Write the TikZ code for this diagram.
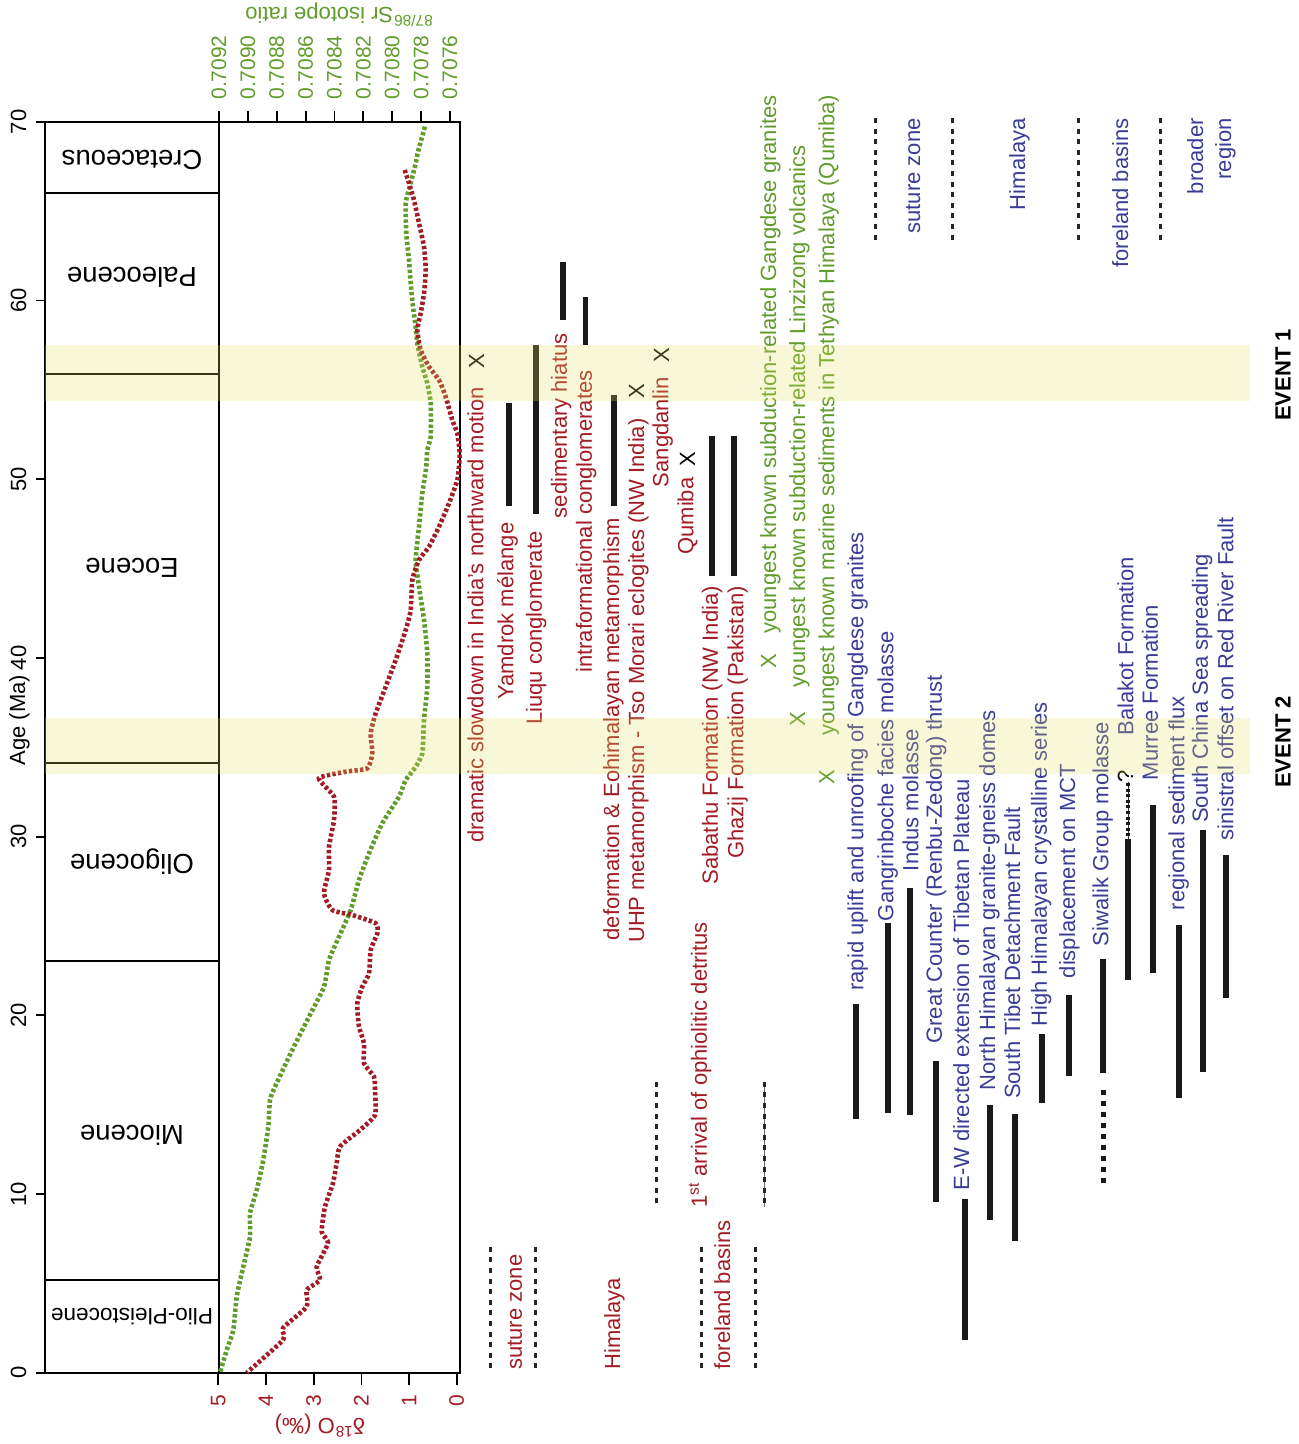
\documentclass[tikz,border=0pt]{standalone}
\usepackage{fontspec}
\setmainfont{Liberation Sans}
\definecolor{cred}{RGB}{163,27,36}
\definecolor{cgreen}{RGB}{96,156,42}
\definecolor{cblue}{RGB}{58,60,150}
\definecolor{cband}{RGB}{227,223,99}
\begin{document}
\begin{tikzpicture}[x=0.5pt,y=-0.5pt,
  lab/.style={font=\fontsize{11}{13}\selectfont, inner sep=0pt, rotate=90, text height=0.72em, text depth=0.21em},
  rl/.style={lab,text=cred},
  gl/.style={lab,text=cgreen},
  bl/.style={lab,text=cblue},
  xm/.style={lab,text=black},
  xg/.style={lab,text=cgreen},
  tbar/.style={line width=2.9pt,color=black!90},
  dbar/.style={line width=2.5pt,color=black!90,dash pattern=on 2.5pt off 3pt},
  sepline/.style={line width=1.5pt,color=black!85,dash pattern=on 2.5pt off 2.8pt},
  curve/.style={line width=2.3pt,dash pattern=on 1.65pt off 1.15pt},
  tickline/.style={line width=0.9pt},
  ticklab/.style={font=\fontsize{10.5}{12}\selectfont, inner sep=0pt, rotate=90, text height=0.716em, text depth=0pt},
  epoch/.style={font=\fontsize{13.75}{16}\selectfont, inner sep=0pt, rotate=180, text height=0.716em, text depth=0pt},
  band/.style={fill=cband, fill opacity=0.25, draw=none},
  ttl/.style={font=\fontsize{11}{13}\selectfont, inner sep=0pt, rotate=180},
  evt/.style={font=\fontsize{11}{13}\selectfont\bfseries, inner sep=0pt, rotate=90},
]
\useasboundingbox (0,0) rectangle (1298,1444);

% ---------- frame ----------
\draw[line width=1.1pt] (45,122) rectangle (460,1372.7);
\draw[line width=1.1pt] (219,122) -- (219,1372.7);
\foreach \yy in {193,374,763,961,1280}
  \draw[line width=1.1pt] (45,\yy) -- (219,\yy);

% epochs
\node[epoch] (ep1) at (132,158) {Cretaceous};
\node[epoch] (ep2) at (132,275) {Paleocene};
\node[epoch] (ep3) at (132,566) {Eocene};
\node[epoch] (ep4) at (132,862) {Oligocene};
\node[epoch] (ep5) at (132,1133) {Miocene};
\node[epoch,font=\fontsize{11.3}{13}\selectfont] (ep6) at (132,1316) {Plio-Pleistocene};

% age axis
\foreach \a in {0,10,...,70}{
  \draw[tickline] (36,{1372.7-17.87*\a}) -- (45,{1372.7-17.87*\a});
  \node[ticklab,font=\fontsize{11}{13}\selectfont] (age\a) at (19,{1372.7-17.87*\a}) {\a};
}
\node[lab,text=black] (agelab) at (20,720) {Age (Ma)};

% Sr axis
\foreach \i/\v in {0/0.7092,1/0.7090,2/0.7088,3/0.7086,4/0.7084,5/0.7082,6/0.7080,7/0.7078,8/0.7076}{
  \draw[tickline] ({219+28.87*\i},111.5) -- ({219+28.87*\i},122);
  \node[ticklab,text=cgreen,anchor=west] (sr\i) at ({219+28.87*\i},100) {\v};
}
\node[ttl,text=cgreen] (srt) at (339,15) {\textsuperscript{87/86}Sr isotope ratio};

% d18O axis
\foreach \d in {0,...,5}{
  \draw[tickline] ({218.3+(5-\d)*47.7},1372.7) -- ({218.3+(5-\d)*47.7},1385);
  \node[ticklab,text=cred] (do\d) at ({218.3+(5-\d)*47.7},1401) {\d};
}
\node[ttl,text=cred] (dot) at (320,1426) {δ\textsuperscript{18}O (‰)};

% ---------- curves ----------
\draw[curve,cgreen] plot[smooth,tension=0.35] coordinates {
(425,126.7) (418,151.7) (415.7,163.3) (412.3,176.7) (409.7,186.7) (405.7,203.3) (406.3,233.3) (409,260) (410.7,283.3) (413,306.7) (415.7,326.7) (417.3,343.3) (422.3,366.7) (427.3,383.3) (430.7,403.3) (430.7,436.7) (427.3,450) (426.3,466.7) (422.3,493.3) (419,526.7) (415.7,560) (419,586.7) (424,620) (427.3,653.3) (427.3,686.7) (424,720) (422.3,753.3) (415.7,766.7) (405.7,780) (399,796.7) (382.3,823.3) (369,853.3) (359,880) (350.7,910) (339,936.7) (329,960) (324,986.7) (309,1016.7) (292.3,1050) (275,1086.7) (270,1100) (268.3,1126.7) (263.3,1160) (256.7,1190) (250,1213.3) (250,1236.7) (243.3,1266.7) (236.7,1296.7) (233.3,1330) (226.7,1350) (220,1372.7)};
\draw[curve,cred] plot[smooth,tension=0.35] coordinates {
(404.7,170) (409,183.3) (414,200) (419,223.3) (424,246.7) (425.7,270) (424,293.3) (420.7,313.3) (417.3,330) (420.7,350) (429,366.7) (439,380) (445.7,396.7) (452.3,420) (457.3,433.3) (459.5,450) (459.5,460) (457.3,480) (449,503.3) (439,526.7) (429,546.7) (419,560) (412.3,580) (410.7,610) (405.7,630) (395.7,660) (385.7,686.7) (375.7,713.3) (370.7,733.3) (372.3,753.3) (367.3,768.3) (345.7,771.7) (319,778.3) (334,796.7) (334,820) (329,846.7) (329,870) (324,893.3) (332.3,910) (352.3,915) (375.7,923.3) (377.3,933.3) (370.7,950) (369,973.3) (362.3,986.7) (357.3,1003.3) (359,1026.7) (364,1043.3) (364,1063.3) (374,1076.7) (375,1090) (375,1115) (360,1130) (340,1146.7) (336.7,1163) (333,1183) (325,1206.7) (321.7,1231.7) (328,1243) (316.7,1266.7) (320,1280) (306.7,1290) (306.7,1306.7) (283,1328) (283,1340) (246.7,1372.7)};

% ---------- red (suture zone etc.) ----------
\node[rl,anchor=west] (t1) at (478.3,843) {dramatic slowdown in India’s northward motion};
\node[xm] (x1) at (479,360.7) {X};
\draw[tbar] (509,403) -- (509,506.4);
\node[rl,anchor=west] (t2) at (508.3,700) {Yamdrok mélange};
\draw[tbar] (536,344.6) -- (536,513.6);
\node[rl,anchor=west] (t3) at (536.7,725) {Liuqu conglomerate};
\draw[tbar] (562.7,262) -- (562.7,319.6);
\node[rl,anchor=west] (t4) at (561.7,518.6) {sedimentary hiatus};
\draw[tbar] (585.5,297) -- (585.5,344.6);
\node[rl,anchor=west] (t5) at (586.7,673) {intraformational conglomerates};
\draw[tbar] (614.3,394.6) -- (614.3,506.4);
\node[rl,anchor=east] (t6) at (614,518) {deformation \& Eohimalayan metamorphism};
\node[rl,anchor=east] (t7) at (639,418) {UHP metamorphism - Tso Morari eclogites (NW India)};
\node[xm] (x7) at (639,391) {X};
\node[rl,anchor=west] (t8) at (663.3,487.5) {Sangdanlin};
\node[xm] (x8) at (664,355.4) {X};
\node[rl,anchor=west] (t9) at (688.3,555) {Qumiba};
\node[xm] (x9) at (690,459) {X};
\draw[tbar] (711.7,435.7) -- (711.7,575.7);
\node[rl,anchor=east] (t10) at (712.7,585.7) {Sabathu Formation (NW India)};
\draw[tbar] (734,435.7) -- (734,575.7);
\node[rl,anchor=east] (t11) at (738.3,585.7) {Ghazij Formation (Pakistan)};
\node[rl,anchor=west] (t12) at (701.7,1208) {1\textsuperscript{st} arrival of ophiolitic detritus};

% ---------- green ----------
\node[xg] (gx1) at (771,660.7) {X};
\node[gl,anchor=west] (g1) at (771,634) {youngest known subduction-related Gangdese granites};
\node[xg] (gx2) at (800,719.6) {X};
\node[gl,anchor=west] (g2) at (800,687.5) {youngest known subduction-related Linzizong volcanics};
\node[xg] (gx3) at (829.3,776.8) {X};
\node[gl,anchor=west] (g3) at (829.3,735.7) {youngest known marine sediments in Tethyan Himalaya (Qumiba)};

% ---------- blue ----------
\draw[tbar] (856,1003.6) -- (856,1119);
\node[bl,anchor=west] (b1) at (858.3,991) {rapid uplift and unroofing of Gangdese granites};
\draw[tbar] (887.7,923.2) -- (887.7,1112.7);
\node[bl,anchor=west] (b2) at (888.3,921.4) {Gangrinboche facies molasse};
\draw[tbar] (910,887.5) -- (910,1115.3);
\node[bl,anchor=west] (b3) at (913.3,871.4) {Indus molasse};
\draw[tbar] (936,1061) -- (936,1202.3);
\node[bl,anchor=east] (b4) at (936.7,675) {Great Counter (Renbu-Zedong) thrust};
\draw[tbar] (965,1199.3) -- (965,1340);
\node[bl,anchor=west] (b5) at (964,1190.7) {E-W directed extension of Tibetan Plateau};
\draw[tbar] (990,1105) -- (990,1220);
\node[bl,anchor=west] (b6) at (990,1090.7) {North Himalayan granite-gneiss domes};
\draw[tbar] (1015,1114) -- (1015,1241);
\node[bl,anchor=west] (b7) at (1015,1099.3) {South Tibet Detachment Fault};
\draw[tbar] (1041.7,1034) -- (1041.7,1102.7);
\node[bl,anchor=west] (b8) at (1041.7,1026.8) {High Himalayan crystalline series};
\draw[tbar] (1069,994.6) -- (1069,1075.7);
\node[bl,anchor=west] (b9) at (1070,978.6) {displacement on MCT};
\draw[tbar] (1103.3,959) -- (1103.3,1072.7);
\draw[dbar] (1103.3,1089.5) -- (1103.3,1187);
\node[bl,anchor=west] (b10) at (1103.3,946.4) {Siwalik Group molasse};
\node[xm] (q11) at (1128,776.8) {?};
\draw[line width=0.5pt,color=black!80] (1128.3,782) -- (1128.3,839.3);
\draw[line width=2pt,color=black!90,dash pattern=on 1.5pt off 1.3pt] (1128.3,783) -- (1128.3,839.3);
\draw[tbar] (1128.3,839.3) -- (1128.3,980.4);
\node[bl,anchor=west] (b11) at (1128.3,735.7) {Balakot Formation};
\draw[tbar] (1152.7,805.4) -- (1152.7,973.2);
\node[bl,anchor=west] (b12) at (1152.7,780.4) {Murree Formation};
\draw[tbar] (1179,925) -- (1179,1097.7);
\node[bl,anchor=west] (b13) at (1179.3,910.7) {regional sediment flux};
\draw[tbar] (1202.7,830.4) -- (1202.7,1072.3);
\node[bl,anchor=west] (b14) at (1202.7,823.2) {South China Sea spreading};
\draw[tbar] (1225.7,855.4) -- (1225.7,998.2);
\node[bl,anchor=west] (b15) at (1228.3,841) {sinistral offset on Red River Fault};

% ---------- category labels ----------
\draw[sepline] (490,1246.7) -- (490,1370);
\draw[sepline] (535,1246.7) -- (535,1370);
\node[rl,anchor=west] (c1) at (516.7,1370) {suture zone};
\node[rl,anchor=west] (c2) at (615,1370) {Himalaya};
\draw[sepline] (656.7,1081.7) -- (656.7,1206.7);
\draw[sepline] (701.7,1246.7) -- (701.7,1370);
\draw[sepline] (755,1246.7) -- (755,1370);
\node[rl,anchor=west] (c3) at (725,1370) {foreland basins};
\draw[line width=0.4pt,color=black!60] (764,1081.7) -- (764,1206.7);
\draw[sepline] (764,1081.7) -- (764,1206.7);

\draw[sepline] (875,118) -- (875,243);
\draw[sepline] (952,118) -- (952,243);
\draw[sepline] (1078,118) -- (1078,243);
\draw[sepline] (1160,118) -- (1160,243);
\node[bl,anchor=east] (c4) at (915,118) {suture zone};
\node[bl,anchor=east] (c5) at (1020,118) {Himalaya};
\node[bl,anchor=east] (c6) at (1123,118) {foreland basins};
\node[bl,anchor=east] (c7) at (1198,118) {broader};
\node[bl,anchor=east] (c8) at (1226,118) {region};

% ---------- events ----------
\fill[band] (45,345) rectangle (1250,400.7);
\fill[band] (45,718.3) rectangle (1250,774);
\node[evt] (e1) at (1283,375) {EVENT 1};
\node[evt] (e2) at (1283,742) {EVENT 2};
\end{tikzpicture}
\end{document}
